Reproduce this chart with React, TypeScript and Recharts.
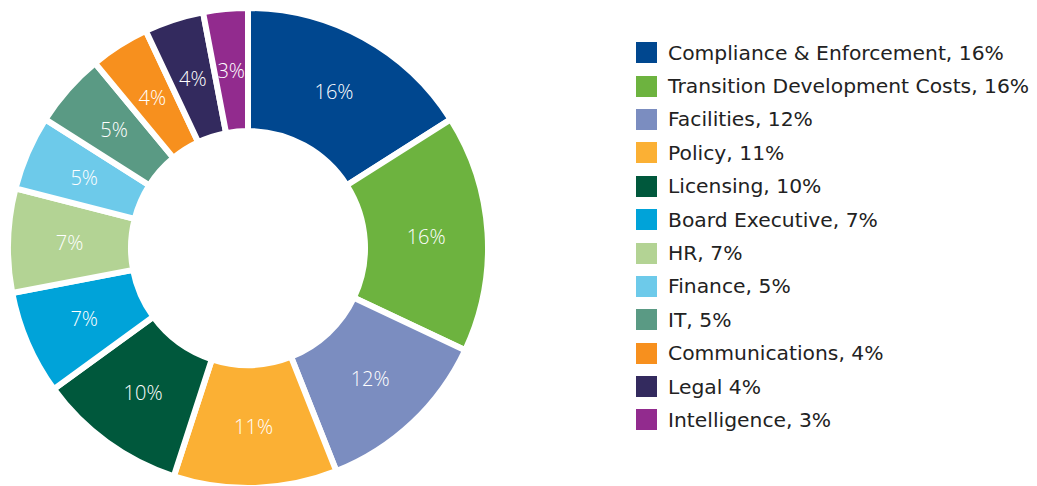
import React from "react";
import { PieChart, Pie, Cell, Legend } from "recharts";

const categories = [
  "Compliance & Enforcement, 16%",
  "Transition Development Costs, 16%",
  "Facilities, 12%",
  "Policy, 11%",
  "Licensing, 10%",
  "Board Executive, 7%",
  "HR, 7%",
  "Finance, 5%",
  "IT, 5%",
  "Communications, 4%",
  "Legal 4%",
  "Intelligence, 3%",
];
const values = [16, 16, 12, 11, 10, 7, 7, 5, 5, 4, 4, 3];
const sliceLabels = ["16%", "16%", "12%", "11%", "10%", "7%", "7%", "5%", "5%", "4%", "4%", "3%"];
const colors = [
  "#00478f", "#6db33f", "#7b8dc0", "#fbb034", "#00583c", "#00a3d9",
  "#b3d394", "#6dcaea", "#5a9a84", "#f7901e", "#332a5e", "#922b8e",
];

const data = categories.map((name, i) => ({ name, value: values[i], label: sliceLabels[i] }));

const RAD = Math.PI / 180;

const renderLabel = (p: any) => {
  const r = (p.innerRadius + p.outerRadius) / 2;
  const x = p.cx + r * Math.cos(-p.midAngle * RAD);
  const y = p.cy + r * Math.sin(-p.midAngle * RAD);
  return (
    <text x={x} y={y} fill="#ffffff" stroke="none" textAnchor="middle" dominantBaseline="central"
      style={{ fontFamily: "'Open Sans', sans-serif", fontSize: 20, fontWeight: 300 }}>
      {p.payload.label}
    </text>
  );
};

const renderLegend = () => (
  <div style={{ fontFamily: "'DejaVu Sans', sans-serif", fontSize: 20.3, color: "#222" }}>
    {data.map((d, i) => (
      <div key={d.name} style={{ display: "flex", alignItems: "center", height: 33.4 }}>
        <span style={{ width: 21, height: 21, background: colors[i], display: "inline-block", marginRight: 11, flex: "none" }} />
        <span style={{ whiteSpace: "nowrap" }}>{d.name}</span>
      </div>
    ))}
  </div>
);

export default function App() {
  return (
    <div style={{ position: "absolute", left: 0, top: 0, width: 1037, height: 486, background: "#fff" }}>
      <PieChart width={1037} height={486} margin={{ top: 0, right: 0, bottom: 0, left: 0 }}>
        <Pie
          data={data}
          dataKey="value"
          nameKey="name"
          cx={248}
          cy={248}
          innerRadius={117}
          outerRadius={240}
          startAngle={90}
          endAngle={-270}
          stroke="#ffffff"
          strokeWidth={6}
          label={renderLabel}
          labelLine={false}
          isAnimationActive={false}
        >
          {data.map((d, i) => (
            <Cell key={d.name} fill={colors[i]} />
          ))}
        </Pie>
        <Legend
          layout="vertical"
          verticalAlign="middle"
          align="right"
          wrapperStyle={{ left: 636, top: 36, width: 401, right: "auto" }}
          content={renderLegend}
        />
      </PieChart>
    </div>
  );
}
